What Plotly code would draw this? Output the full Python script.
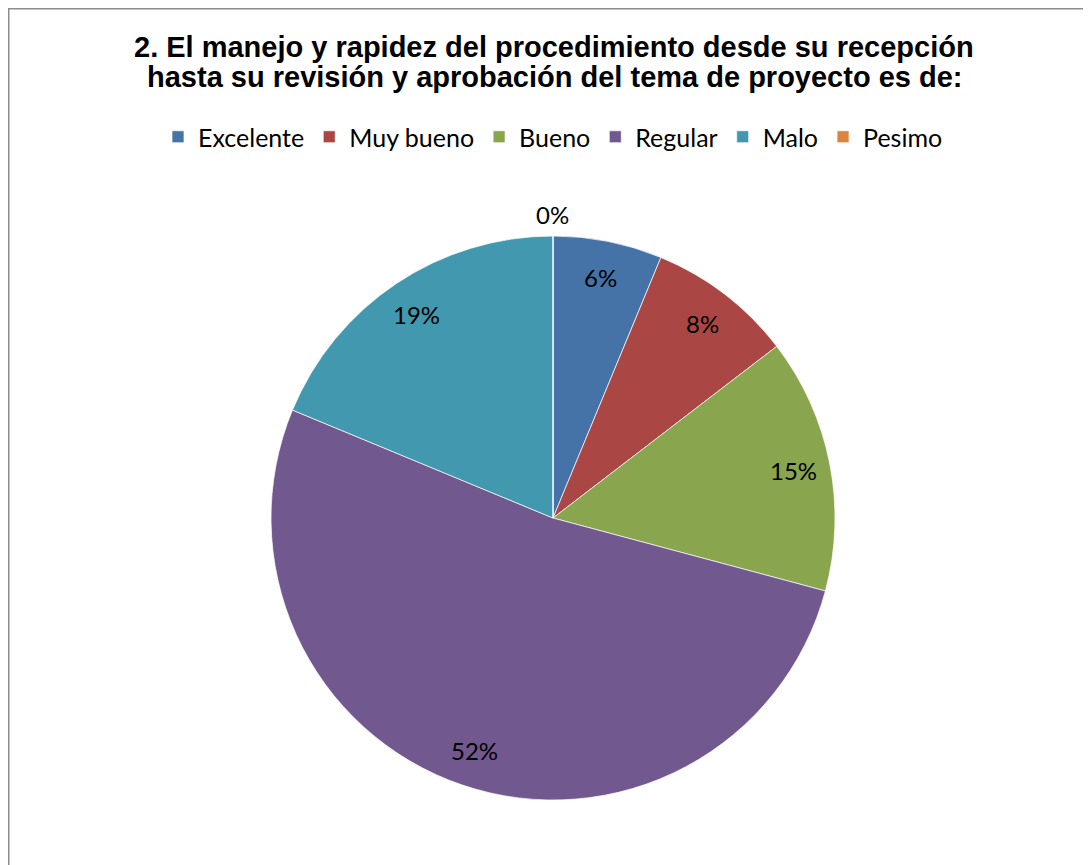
import math
import plotly.graph_objects as go

# ── Data ──────────────────────────────────────────────────────────────────────
labels = ["Excelente", "Muy bueno", "Bueno", "Regular", "Malo", "Pesimo"]
counts = [3, 4, 7, 25, 9, 0]
colors = ["#4572A7", "#AA4643", "#89A54E", "#71588F", "#4198AF", "#DB843D"]
title_lines = [
    "2. El manejo y rapidez del procedimiento desde su recepción",
    "hasta su revisión y aprobación del tema de proyecto es de:",
]

W, H = 1091, 865
OFF = 8  # page body margin: figure starts 8px right/down of the screenshot


def px(x):
    return (x - OFF) / W


def py(y):
    return 1 - (y - OFF) / H


# pie box in screenshot pixels
cx, cy, r = 553, 518, 282

fig = go.Figure(go.Pie(
    labels=labels,
    values=counts,
    sort=False,
    direction="clockwise",
    rotation=0,
    marker=dict(colors=colors, line=dict(color="rgba(255,255,255,0.7)", width=1)),
    textinfo="none",
    hoverinfo="label+percent",
    domain=dict(x=[px(cx - r), px(cx + r)], y=[py(cy + r), py(cy - r)]),
    showlegend=True,
))

# data labels, Excel style: placed out towards the rim of each slice
total = sum(counts)
cum = 0
for lab, v in zip(labels, counts):
    mid = (cum + v / 2) / total * 2 * math.pi
    cum += v
    d = r * (0.87 if v > 0 else 1.075)
    fig.add_annotation(
        x=px(cx + d * math.sin(mid)), y=py(cy - d * math.cos(mid)),
        xref="paper", yref="paper", xanchor="center", yanchor="middle",
        showarrow=False, text=f"{round(100 * v / total)}%",
        font=dict(family="Lato", size=24, color="#000000"),
    )

# two-line bold title with Excel's tight line spacing
for i, line in enumerate(title_lines):
    fig.add_annotation(
        x=px(554), y=py(47 + 30 * i), xref="paper", yref="paper",
        xanchor="center", yanchor="middle",
        showarrow=False, text=f"<b>{line}</b>",
        font=dict(family="Liberation Sans, Arial", size=29, color="#000000"),
    )

fig.update_layout(
    width=W, height=H,
    margin=dict(l=0, r=0, t=0, b=0),
    paper_bgcolor="#ffffff",
    plot_bgcolor="#ffffff",
    legend=dict(
        orientation="h", x=px(553), xanchor="center",
        y=py(137), yanchor="middle",
        font=dict(family="Lato", size=25, color="#000000"),
        itemwidth=30,
        traceorder="normal",
    ),
)

# chart frame (right and bottom edges fall outside the picture)
fig.add_shape(
    type="rect", xref="paper", yref="paper",
    x0=0.5 / W, x1=1.05, y0=-0.05, y1=1 - 0.5 / H,
    line=dict(color="#8c8c8c", width=2), fillcolor="rgba(0,0,0,0)",
)

fig.write_html("out.html")
